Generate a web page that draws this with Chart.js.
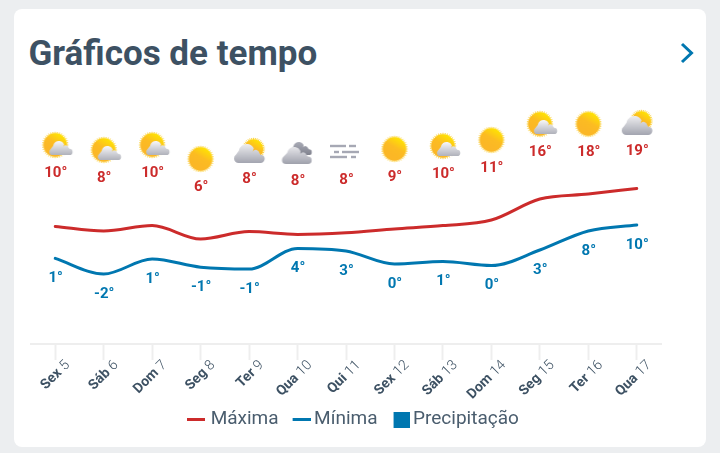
<!DOCTYPE html>
<html lang="pt"><head><meta charset="utf-8">
<script src="https://cdn.jsdelivr.net/npm/chart.js@4"></script>
<style>
html,body{margin:0;padding:0;background:#eceef0;width:720px;height:453px;overflow:hidden}
#card{position:absolute;left:14px;top:9px;width:692px;height:438px;background:#fff;border-radius:8px}
h1{position:absolute;left:28.5px;top:33px;margin:0;font:700 35px/42px Roboto,sans-serif;color:#3d5163}
svg{position:absolute;left:676px;top:38px}
canvas{position:absolute;left:0;top:0}
</style></head><body>
<div id="card"></div>
<h1>Gráficos de tempo</h1>
<svg width="22" height="30" viewBox="0 0 22 30"><polyline points="6,6 15.5,15 6,24" fill="none" stroke="#0077b0" stroke-width="3"/></svg>
<canvas id="c" width="720" height="453"></canvas>
<script>
const dayNames=['Sex','Sáb','Dom','Seg','Ter','Qua','Qui','Sex','Sáb','Dom','Seg','Ter','Qua'];
const dayNumbers=[5,6,7,8,9,10,11,12,13,14,15,16,17];
const maxLine=[9.4,8.25,9.6,6.25,8.1,7.4,7.8,8.75,9.6,11,16.25,17.5,18.9];
const minLine=[1.4,-2.5,1.25,-0.8,-1.25,3.9,3.25,0,0.6,-0.4,3.5,8.25,9.75];
const maxLabels=[10,8,10,6,8,8,8,9,10,11,16,18,19];
const minLabels=[1,-2,1,-1,-1,4,3,0,1,0,3,8,10];
const precipitation=[0,0,0,0,0,0,0,0,0,0,0,0,0];
const iconLevel=[29.75,28.5,29.75,26.25,28.25,27.75,28,28.75,29.5,31,35,35,35.25];
const iconKinds=['partly','partly','partly','sun','cloudsun','dark','fog','sun','partly','sun','partly','sun','cloudsun'];
const RED='#cc2b2b',BLUE='#0077b0',INK='#3d5163',GRID='#eeeeee',LEG='#4a5d6e';

function sun(g,x,y,r){
  g.save();
  g.strokeStyle='#fbc91c';g.lineWidth=.9;
  for(let i=0;i<36;i++){const a=i/36*Math.PI*2;
    g.beginPath();g.moveTo(x+Math.cos(a)*(r-1),y+Math.sin(a)*(r-1));g.lineTo(x+Math.cos(a)*(r+1.2),y+Math.sin(a)*(r+1.2));g.stroke();}
  const f=g.createLinearGradient(x+r*.5,y-r*.9,x-r*.3,y+r*.5);
  f.addColorStop(0,'#ffe600');f.addColorStop(.55,'#fcbc22');f.addColorStop(1,'#fbb726');
  g.fillStyle=f;g.beginPath();g.arc(x,y,r-.3,0,Math.PI*2);g.fill();
  g.restore();
}
function cloud(g,x,w,yTop,h,c1,c2){
  const f=g.createLinearGradient(0,yTop,0,yTop+h);
  f.addColorStop(0,c1);f.addColorStop(1,c2);
  g.fillStyle=f;g.beginPath();
  const b=yTop+h;
  g.arc(x+w*.15,b-h*.24,h*.24,Math.PI*.5,Math.PI*1.3);
  g.arc(x+w*.42,yTop+h*.42,h*.42,Math.PI*1.05,Math.PI*1.85);
  g.arc(x+w*.72,yTop+h*.52,h*.2,Math.PI*1.2,Math.PI*1.9);
  g.arc(x+w*.88,b-h*.22,h*.22,Math.PI*1.5,Math.PI*.5);
  g.closePath();g.fill();
}
function makeIcon(kind){
  const c=document.createElement('canvas');c.width=c.height=48;
  const g=c.getContext('2d');g.translate(24,24);
  if(kind==='sun'){sun(g,0,0,12);}
  if(kind==='partly'){sun(g,0,0,12);cloud(g,-6,23,-4,14,'#f8f8f9','#b0b2bb');}
  if(kind==='cloudsun'){sun(g,4.5,-2,10);cloud(g,-15,30,-7,19,'#eeeef0','#a3a5b0');}
  if(kind==='dark'){cloud(g,-8,22,-11,13,'#a9abb6','#80828e');cloud(g,-16,30,-6,17,'#e6e6ea','#9fa1ac');}
  if(kind==='fog'){
    g.fillStyle='#a6a8b4';
    [[-16,-6,16],[3,-6,7],[-12,0,5],[-4,0,17],[-16,5,17],[5,5,5]].forEach(b=>{g.fillRect(b[0],b[1]-1.2,b[2],2.4);});
  }
  return c;
}
const icons=iconKinds.map(makeIcon);
function swatch(w,h,color){
  const c=document.createElement('canvas');c.width=w;c.height=h;
  const g=c.getContext('2d');g.fillStyle=color;
  return {c,g};
}
const lineMax=swatch(18,3,RED);lineMax.g.fillRect(0,0,18,3);
const lineMin=swatch(22,3,BLUE);lineMin.g.fillRect(4,0,18,3);
const box=swatch(22,16,BLUE);box.g.fillRect(6,0,16,16);

const overlay={
  id:'overlay',
  afterLayout(ch){ch.legend.left+=9;ch.legend.right+=9;},
  afterDatasetsDraw(ch){
    const g=ch.ctx,x=ch.scales.x;
    g.save();g.textAlign='center';g.textBaseline='middle';g.font='700 15px Roboto';
    const pI=ch.getDatasetMeta(3).data,pMin=ch.getDatasetMeta(1).data;
    g.fillStyle=RED;maxLabels.forEach((v,i)=>g.fillText(v+'°',pI[i].x+.5,pI[i].y+28.5));
    g.fillStyle=BLUE;minLabels.forEach((v,i)=>g.fillText(v+'°',pMin[i].x+.5,pMin[i].y+20));
    g.restore();
    dayNames.forEach((d,i)=>{
      g.save();
      g.translate(x.getPixelForValue(i)+12.5,x.top+19);
      g.rotate(-Math.PI/4);
      g.textBaseline='middle';g.textAlign='right';g.fillStyle=INK;
      g.font='300 14px Roboto';
      const n=String(dayNumbers[i]);g.fillText(n,0,0);
      const w=g.measureText(n).width;
      g.font='700 14px Roboto';g.fillText(d,-w-3.5,0);
      g.restore();
    });
  }
};
new Chart(document.getElementById('c'),{
  type:'line',
  data:{labels:dayNames.map((d,i)=>d+' '+dayNumbers[i]),datasets:[
    {label:'Máxima',data:maxLine,borderColor:RED,borderWidth:3,pointRadius:0,cubicInterpolationMode:'monotone',borderCapStyle:'round'},
    {label:'Mínima',data:minLine,borderColor:BLUE,borderWidth:3,pointRadius:0,cubicInterpolationMode:'monotone',borderCapStyle:'round'},
    {type:'bar',label:'Precipitação',data:precipitation,backgroundColor:BLUE},
    {label:'Ícones',data:iconLevel,showLine:false,pointRadius:10,pointStyle:icons}
  ]},
  options:{
    responsive:false,animation:false,
    events:[],
    layout:{padding:{left:31,right:59,top:104,bottom:14}},
    scales:{
      x:{offset:true,
        grid:{offset:false,drawOnChartArea:false,drawTicks:true,tickLength:16,tickColor:GRID,tickWidth:2,color:GRID},
        border:{color:GRID,width:2},
        ticks:{display:false},
        afterFit(s){s.height=50;}},
      y:{display:false,min:-20,max:40}
    },
    plugins:{
      tooltip:{enabled:false},
      legend:{position:'bottom',
        labels:{usePointStyle:true,pointStyleWidth:10,padding:16,color:LEG,font:{family:'Roboto',size:19},
          generateLabels(){return [
            {text:'Máxima',pointStyle:lineMax.c,fontColor:LEG,datasetIndex:0},
            {text:'Mínima',pointStyle:lineMin.c,fontColor:LEG,datasetIndex:1},
            {text:'Precipitação',pointStyle:box.c,fontColor:LEG,datasetIndex:2}
          ];}}}
    }
  },
  plugins:[overlay]
});
</script>
</body></html>
